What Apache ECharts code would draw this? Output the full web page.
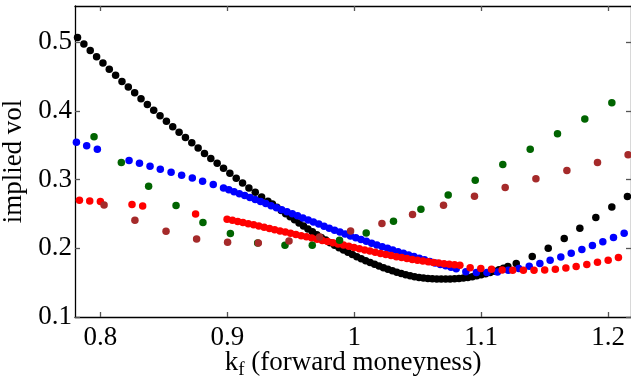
<!DOCTYPE html>
<html><head><meta charset="utf-8">
<script src="https://cdn.jsdelivr.net/npm/echarts@6/dist/echarts.min.js"></script>
<style>html,body{margin:0;padding:0;background:#fff}#c{width:631px;height:380px}</style>
</head><body><div id="c"></div>
<script>
const xTicks = [0.8, 0.9, 1.0, 1.1, 1.2];
const yTicks = [0.1, 0.2, 0.3, 0.4, 0.5];

const blackPts = [
 [0.782,0.507],[0.787,0.4975],[0.792,0.488],[0.797,0.479],[0.802,0.470],[0.807,0.461],
 [0.812,0.452],[0.817,0.443],[0.822,0.435],[0.827,0.4266],[0.832,0.418],[0.837,0.4096],
 [0.842,0.401],[0.847,0.393],[0.852,0.385],[0.857,0.377],[0.862,0.369],[0.867,0.3615],
 [0.872,0.3537],[0.877,0.346],[0.882,0.338],[0.887,0.331],[0.892,0.324],[0.897,0.3168],
 [0.902,0.3095],[0.907,0.3022],[0.912,0.2953],[0.917,0.288],[0.922,0.2818],[0.927,0.2749],
 [0.932,0.2686],
 [0.9355,0.2645],[0.939,0.2598],[0.9425,0.2552],[0.946,0.2505],[0.9495,0.2460],[0.953,0.2415],
 [0.9565,0.2370],[0.96,0.2325],[0.9635,0.2282],[0.967,0.2240],[0.9705,0.2198],[0.974,0.2158],
 [0.9775,0.2120],[0.981,0.2082],[0.9845,0.2045],[0.988,0.2010],[0.9915,0.1975],[0.995,0.1942],
 [0.9985,0.1910],[1.002,0.1878],[1.0055,0.1848],[1.009,0.1820],[1.0125,0.1793],[1.016,0.1767],
 [1.0195,0.1742],[1.023,0.1718],[1.0265,0.1695],[1.03,0.1673],[1.0335,0.1652],[1.037,0.1633],
 [1.0405,0.1615],[1.044,0.1600],[1.0475,0.1587],[1.051,0.1576],[1.0545,0.1567],[1.058,0.1560],
 [1.0615,0.1556],[1.065,0.1553],[1.0685,0.1552],[1.072,0.1552],[1.0755,0.1553],[1.079,0.1556],
 [1.0825,0.1561],[1.086,0.1568],[1.0895,0.1577],[1.093,0.1588],[1.0965,0.1601],[1.1,0.1615],
 [1.1035,0.1631],[1.107,0.1649],[1.1105,0.1668],[1.114,0.1689],[1.1175,0.1711],[1.121,0.1735],
 [1.1276,0.1780],[1.1402,0.1880],[1.1528,0.2001],[1.1654,0.2143],[1.1777,0.2293],[1.1903,0.2449],
 [1.2029,0.2604],[1.2152,0.2755]
];

const bluePts = [
 [0.7811,0.3545],[0.7892,0.3493],[0.7976,0.3445],
 [0.8226,0.3280],[0.8308,0.3238],[0.8391,0.3195],[0.8472,0.3153],[0.8557,0.3110],[0.8640,0.3066],
 [0.8724,0.3026],[0.8805,0.2978],[0.8889,0.2930],
 [0.897,0.2880],[0.9012,0.2852],[0.9053,0.2824],[0.9095,0.2796],[0.9137,0.2768],[0.9178,0.2739],
 [0.922,0.2711],[0.9262,0.2682],[0.9303,0.2652],[0.9345,0.2622],[0.9387,0.2592],[0.9428,0.2562],
 [0.947,0.2533],[0.9512,0.2503],[0.9553,0.2473],[0.9595,0.2443],[0.9637,0.2413],[0.9678,0.2383],
 [0.972,0.2353],[0.9762,0.2323],[0.9803,0.2294],[0.9845,0.2265],[0.9887,0.2237],[0.9928,0.2209],
 [0.997,0.2181],[1.0012,0.2154],[1.0053,0.2128],[1.0095,0.2102],[1.0137,0.2076],[1.0178,0.2050],
 [1.022,0.2025],[1.0262,0.2000],[1.0303,0.1976],[1.0345,0.1952],[1.0387,0.1928],[1.0428,0.1904],
 [1.047,0.1880],[1.0512,0.1856],[1.0553,0.1833],[1.0595,0.1810],[1.0637,0.1788],[1.0678,0.1766],
 [1.072,0.1745],[1.0762,0.1724],[1.0803,0.1704],
 [1.0879,0.1660],[1.0962,0.1650],[1.1045,0.1650],[1.1128,0.1656],[1.1213,0.1681],[1.1296,0.1706],
 [1.1378,0.1739],[1.1462,0.1778],[1.1543,0.1827],[1.1627,0.1875],[1.1709,0.1929],[1.1793,0.1982],
 [1.1876,0.2040],[1.1958,0.2096],[1.2042,0.2157],[1.2126,0.2220]
];

const redPts = [
 [0.7835,0.2701],[0.7916,0.2691],[0.8000,0.2682],[0.8249,0.2638],[0.8333,0.2618],[0.8750,0.2501],
 [0.8998,0.2424],[0.9040,0.2408],[0.9082,0.2391],[0.9123,0.2375],[0.9165,0.2359],[0.9207,0.2342],
 [0.9248,0.2325],[0.9290,0.2307],[0.9332,0.2290],[0.9373,0.2272],[0.9415,0.2254],[0.9457,0.2237],
 [0.9498,0.2219],[0.9540,0.2202],[0.9582,0.2185],[0.9623,0.2168],[0.9665,0.2151],[0.9707,0.2134],
 [0.9748,0.2116],[0.9790,0.2099],[0.9832,0.2082],[0.9873,0.2065],[0.9915,0.2049],[0.9957,0.2031],
 [0.9998,0.2013],[1.0040,0.1995],[1.0082,0.1977],[1.0123,0.1960],[1.0165,0.1943],[1.0207,0.1926],
 [1.0248,0.1910],[1.0290,0.1894],[1.0332,0.1879],[1.0373,0.1865],[1.0415,0.1851],[1.0457,0.1838],
 [1.0498,0.1826],[1.0540,0.1815],[1.0582,0.1804],[1.0623,0.1794],[1.0665,0.1785],[1.0707,0.1776],
 [1.0748,0.1768],[1.0790,0.1761],[1.0832,0.1754],
 [1.0913,0.1718],[1.0997,0.1706],[1.1081,0.1695],[1.1165,0.1685],[1.1248,0.1681],[1.1332,0.1681],
 [1.1416,0.1681],[1.1500,0.1685],[1.1584,0.1697],[1.1667,0.1714],[1.1748,0.1734],[1.1832,0.1764],
 [1.1916,0.1797],[1.2000,0.1827],[1.2081,0.1866]
];

const greenPts = [
 [0.7950,0.3624],[0.8165,0.3251],[0.8380,0.2905],[0.8596,0.2624],[0.8808,0.2376],[0.9024,0.2216],
 [0.9239,0.2079],[0.9454,0.2045],[0.9669,0.2045],[0.9884,0.2118],[1.0094,0.2224],[1.0309,0.2395],
 [1.0525,0.2570],[1.0740,0.2778],[1.0953,0.2993],[1.1170,0.3221],[1.1386,0.3445],[1.1601,0.3668],
 [1.1816,0.3885],[1.2029,0.4119]
];

const brownPts = [
 [0.8029,0.2633],[0.8272,0.2410],[0.8517,0.2249],[0.8758,0.2137],[0.9002,0.2089],[0.9244,0.2079],
 [0.9486,0.2108],[0.9727,0.2166],[0.9971,0.2254],[1.0218,0.2361],[1.0459,0.2493],[1.0703,0.2628],
 [1.0947,0.2760],[1.1189,0.2886],[1.1431,0.3012],[1.1675,0.3134],[1.1916,0.3251],[1.2157,0.3362]
];

const FONT = 'Liberation Serif';
const chart = echarts.init(document.getElementById('c'), null, {renderer: 'canvas'});

function xAxisDef(pos, showLabel, withName) {
  return {
    type: 'value', position: pos, min: 0.78, max: 1.218,
    axisLine: {show: true, onZero: false, lineStyle: {color: '#000', width: 1.3}},
    axisTick: {show: true, inside: true, length: 5, customValues: xTicks, lineStyle: {color: '#555', width: 1.3}},
    axisLabel: {show: showLabel, customValues: xTicks, margin: 7, color: '#000', fontFamily: FONT, fontSize: 27,
      formatter: v => String(+(+v).toFixed(1))},
    splitLine: {show: false},
    name: withName ? '{k|k}{s|f}{t| (forward moneyness)}' : '',
    nameLocation: 'middle', nameGap: 28, nameMoveOverlap: false,
    nameTextStyle: {rich: {
      k: {fontFamily: FONT, fontSize: 27, color: '#000'},
      s: {fontFamily: FONT, fontSize: 19, color: '#000', verticalAlign: 'bottom', padding: [16, 0, 0, 0]},
      t: {fontFamily: FONT, fontSize: 27, color: '#000'}
    }}
  };
}
function yAxisDef(pos, showLabel, withName) {
  return {
    type: 'value', position: pos, min: 0.1, max: 0.553,
    axisLine: {show: true, onZero: false, lineStyle: {color: '#000', width: 1.3}},
    axisTick: {show: true, inside: true, length: 5, customValues: yTicks, lineStyle: {color: '#555', width: 1.3}},
    axisLabel: {show: showLabel, customValues: yTicks, margin: 3, color: '#000', fontFamily: FONT, fontSize: 27,
      formatter: v => (+v).toFixed(1)},
    splitLine: {show: false},
    name: withName ? 'implied vol' : '',
    nameLocation: 'middle', nameGap: 42,
    nameTextStyle: {fontFamily: FONT, fontSize: 27, color: '#000'}
  };
}

function sc(data, color) {
  return {type: 'scatter', data: data, symbol: 'circle', symbolSize: 7.5, silent: true,
    itemStyle: {color: color, opacity: 1}, emphasis: {disabled: true}, animation: false};
}

chart.setOption({
  animation: false,
  backgroundColor: '#fff',
  grid: {left: 75, right: 0, top: 6, bottom: 63, containLabel: false, outerBoundsMode: 'none'},
  xAxis: [xAxisDef('bottom', true, true), xAxisDef('top', false, false)],
  yAxis: [yAxisDef('left', true, true), yAxisDef('right', false, false)],
  series: [
    sc(blackPts, '#000000'),
    sc(bluePts, '#0000ff'),
    sc(redPts, '#ff0000'),
    sc(greenPts, '#006400'),
    sc(brownPts, '#a52a2a')
  ]
});
</script>
</body></html>
